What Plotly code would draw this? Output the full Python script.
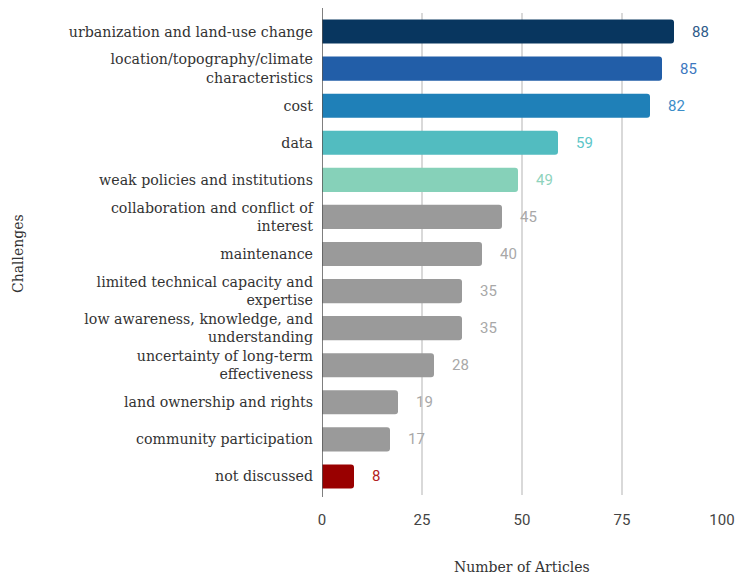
import plotly.graph_objects as go

challenges = [
    "urbanization and land-use change",
    "location/topography/climate<br>characteristics",
    "cost",
    "data",
    "weak policies and institutions",
    "collaboration and conflict of<br>interest",
    "maintenance",
    "limited technical capacity and<br>expertise",
    "low awareness, knowledge, and<br>understanding",
    "uncertainty of long-term<br>effectiveness",
    "land ownership and rights",
    "community participation",
    "not discussed",
]
articles = [88, 85, 82, 59, 49, 45, 40, 35, 35, 28, 19, 17, 8]
bar_colors = ["#08365F", "#225EA8", "#1F80B8", "#52BCC0", "#86D1B9"] + ["#9A9A9A"] * 7 + ["#990000"]
label_colors = ["#2F5B8A", "#3D78C0", "#3C8DC8", "#5CC6C8", "#8ED3BC"] + ["#A8A8A8"] * 7 + ["#B22222"]
x_ticks = [0, 25, 50, 75, 100]

serif = "DejaVu Serif, serif"
sans = "Roboto, sans-serif"

W, H = 740, 578
M_L, M_R, M_T, M_B = 322, 18, 13, 83
plot_h = H - M_T - M_B
plot_w = W - M_L - M_R

fig = go.Figure(
    go.Bar(
        x=articles,
        y=challenges,
        orientation="h",
        marker=dict(color=bar_colors, line=dict(width=0), cornerradius=3),
        hoverinfo="x+y",
    )
)

for val, cat, col in zip(articles, challenges, label_colors):
    fig.add_annotation(
        x=val, y=cat, text=str(val), showarrow=False,
        xanchor="left", xshift=16,
        font=dict(family=sans, size=15, color=col),
    )

# axis titles
fig.add_annotation(
    x=0.5, y=-(567 - (H - M_B)) / plot_h, xref="paper", yref="paper",
    text="Number of Articles", showarrow=False,
    xanchor="center", yanchor="middle",
    font=dict(family=serif, size=14, color="#333333"),
)
fig.add_annotation(
    x=(18 - M_L) / plot_w, y=0.5, xref="paper", yref="paper",
    text="Challenges", showarrow=False, textangle=-90,
    xanchor="center", yanchor="middle",
    font=dict(family=serif, size=14, color="#333333"),
)

# vertical baseline at zero, running slightly past the category bands
fig.add_shape(
    type="line", xref="x", yref="paper",
    x0=0, x1=0, y0=-2 / plot_h, y1=1 + 5 / plot_h,
    line=dict(color="#555555", width=1.5),
    layer="above",
)

fig.update_layout(
    width=W, height=H,
    margin=dict(l=M_L, r=M_R, t=M_T, b=M_B, autoexpand=False),
    paper_bgcolor="white", plot_bgcolor="white",
    bargap=0.35,
    showlegend=False,
    xaxis=dict(
        range=[0, 100], tickvals=x_ticks, ticktext=[str(t) for t in x_ticks],
        showgrid=True, gridcolor="#D9D9D9", gridwidth=1.5,
        zeroline=False, showline=False, ticks="",
        ticklabelstandoff=14, automargin=False,
        tickfont=dict(family=sans, size=15, color="#444444"),
    ),
    yaxis=dict(
        autorange="reversed", showgrid=False, zeroline=False,
        showline=False, ticks="",
        ticklabelstandoff=8, automargin=False,
        tickfont=dict(family=serif, size=14.2, color="#333333"),
    ),
)

fig.write_html("out.html")
